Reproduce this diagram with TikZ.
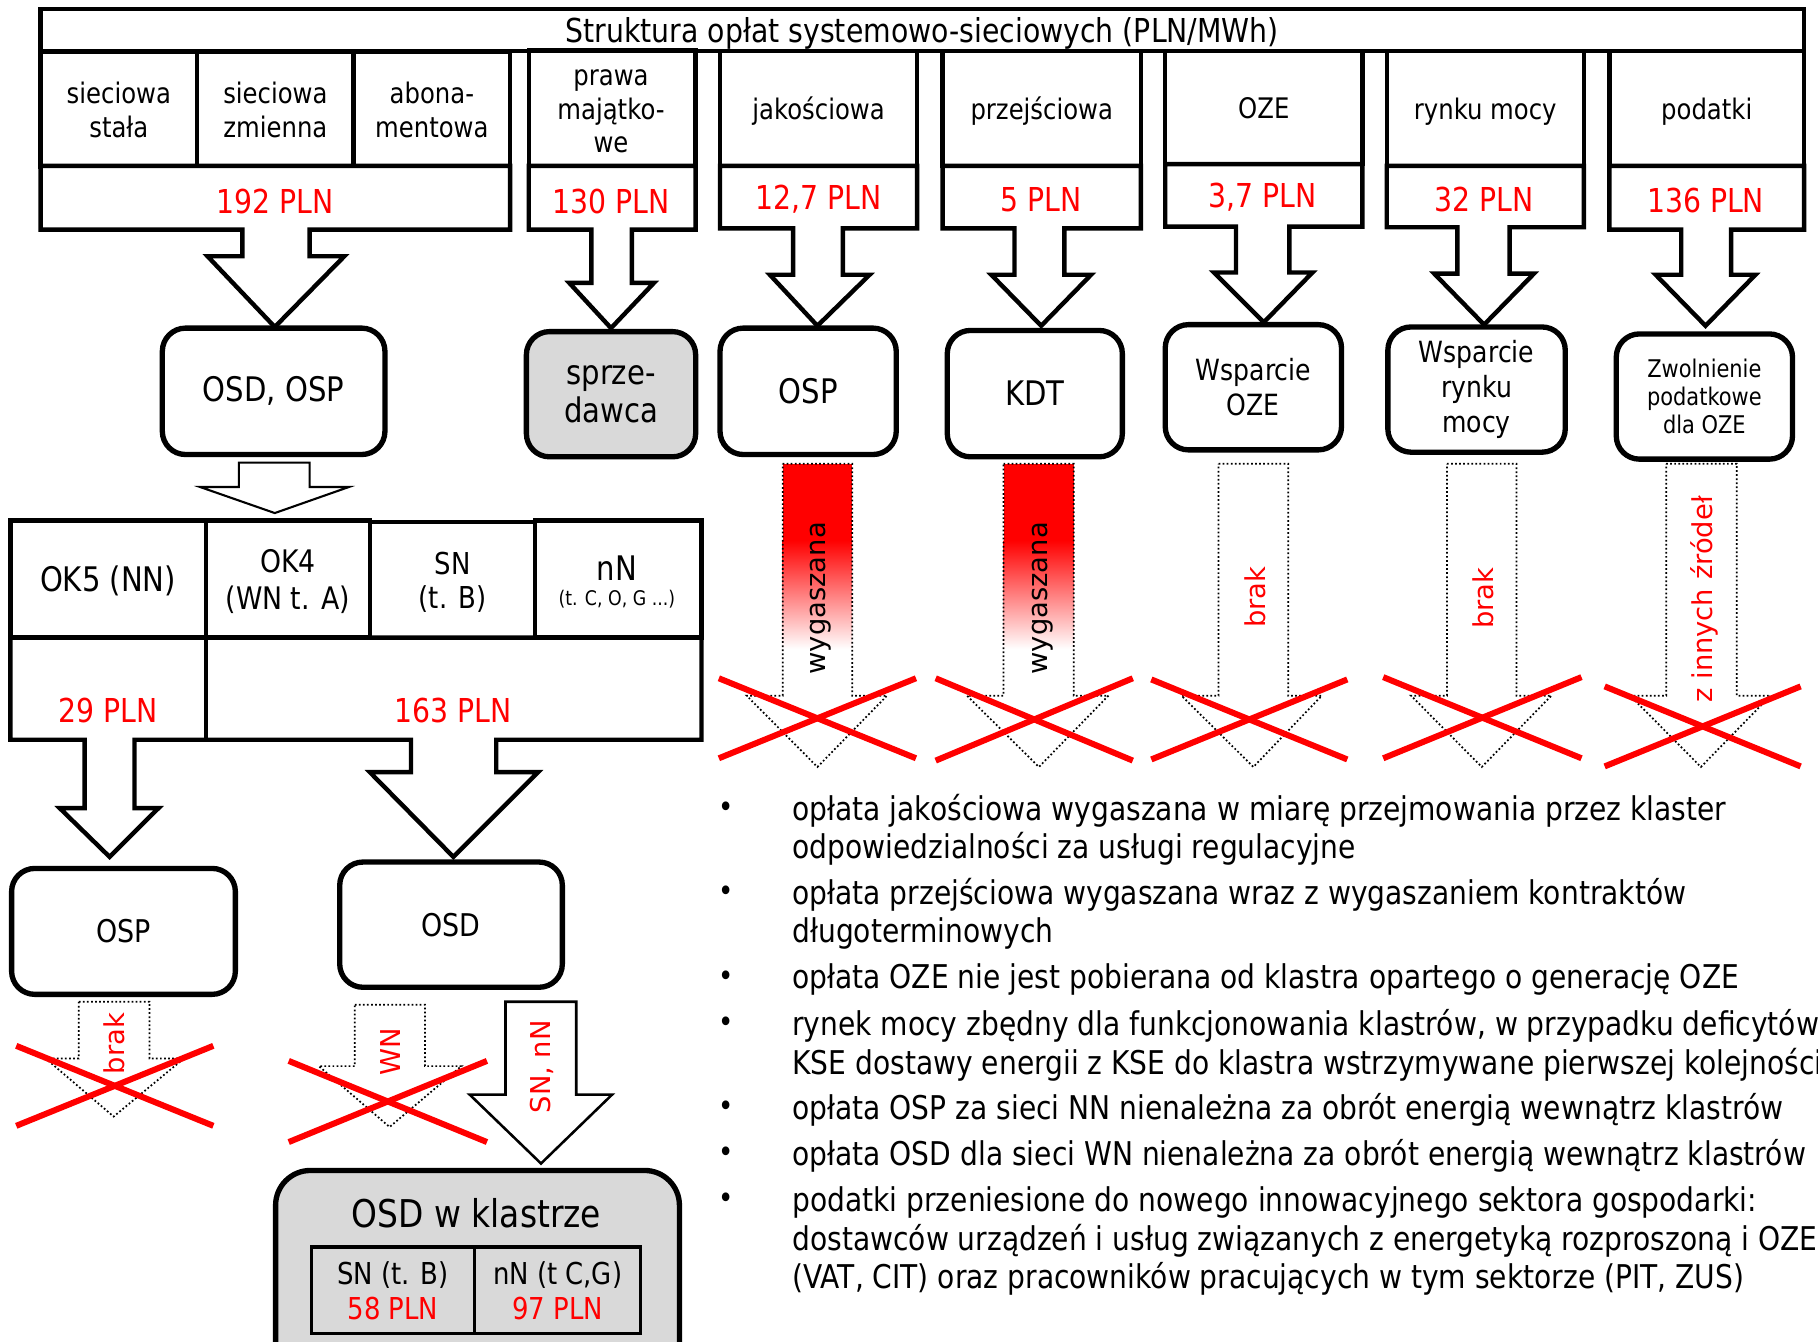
\documentclass[tikz,border=0pt]{standalone}
\usepackage{fontspec}
\setmainfont{DejaVu Sans}[FakeStretch=0.86]
\newfontfamily\rotf{DejaVu Sans}
\definecolor{boxgray}{HTML}{D9D9D9}
\definecolor{pred}{HTML}{FF0000}
\tikzset{
  tl/.style={line width=1.9pt, line join=miter, miter limit=10},
  cell/.style={draw, tl, inner sep=0pt, align=center, text depth=0pt},
  rbox/.style={draw, line width=2.3pt, rounded corners=10pt, inner sep=0pt, align=center, fill=white},
  f12/.style={font=\fontsize{12.2}{14.5}\selectfont},
  f13/.style={font=\fontsize{13}{15}\selectfont},
  f14/.style={font=\fontsize{14.6}{16}\selectfont},
  fval/.style={font=\fontsize{14.2}{16}\selectfont, text=pred, inner sep=0pt},
  frot/.style={font=\rotf\fontsize{11.8}{14}\selectfont, rotate=90, inner sep=0pt},
  dotar/.style={densely dotted, line width=0.75pt},
  redx/.style={draw=pred, line width=2.6pt},
  blk/.style={tl, fill=white},
  thinar/.style={line width=0.9pt, fill=white, line join=miter},
  btxt/.style={font=\fontsize{14.1}{16}\selectfont, anchor=west, inner sep=0pt},
  bul/.style={font=\fontsize{13}{15}\selectfont, inner sep=0pt},
}
\begin{document}
\begin{tikzpicture}[x=0.5pt,y=-0.5pt]
\useasboundingbox (0,0) rectangle (1568,1157);
\clip (0,0) rectangle (1568,1157);
\fill[white] (0,0) rectangle (1568,1157);

% ---------- title ----------
\node[cell, font=\fontsize{14.2}{16}\selectfont, minimum width=760.5pt, minimum height=18pt] (title) at (795.5,26) {Struktura opłat systemowo-sieciowych (PLN/MWh)};

% ---------- second-row rounded boxes ----------
\node[rbox, f14, minimum width=96pt, minimum height=54.5pt] (osdosp) at (236,337.5) {OSD, OSP};
\node[rbox, f14, fill=boxgray, minimum width=73pt, minimum height=54pt] (sprz) at (527,340) {sprze-\\dawca};
\node[rbox, f14, minimum width=76pt, minimum height=54.5pt] (ospj) at (697,337.5) {OSP};
\node[rbox, f14, minimum width=75.5pt, minimum height=54.5pt] (kdt) at (892.5,339.5) {KDT};
\node[rbox, font=\fontsize{12.6}{15}\selectfont, minimum width=76pt, minimum height=54pt] (woze) at (1081,334) {Wsparcie\\OZE};
\node[rbox, font=\fontsize{12.6}{15}\selectfont, minimum width=76.5pt, minimum height=54pt] (wrm) at (1273.5,336) {Wsparcie\\rynku\\mocy};
\node[rbox, font=\fontsize{10.5}{12}\selectfont, minimum width=76pt, minimum height=54pt] (zwol) at (1470,342) {Zwolnienie\\podatkowe\\dla OZE};

% ---------- group 1 ----------
\node[cell, f12, minimum width=67.5pt, minimum height=49.5pt] (h1) at (102.5,94.5) {sieciowa\\stała};
\node[cell, f12, minimum width=67.5pt, minimum height=49.5pt] (h2) at (237.5,94.5) {sieciowa\\zmienna};
\node[cell, f12, minimum width=67.5pt, minimum height=49.5pt] (h3) at (372.5,94.5) {abona-\\mentowa};
\draw[blk] (35,143) -- (440,143) -- (440,198) -- (267,198) -- (267,221) -- (297,221) -- (237,282) -- (179,221) -- (209,221) -- (209,198) -- (35,198) -- cycle;
\node[fval] (v1) at (237,174) {192 PLN};

% ---------- prawa ----------
\node[cell, minimum width=72pt, minimum height=50pt] (h4) at (528,93) {};
\node[f12, align=center, inner sep=0pt] (h4t) at (527,96) {prawa\\majątko-\\we};
\draw[blk] (456,143) -- (600,143) -- (600,198) -- (545,198) -- (545,244) -- (564,244) -- (527,283) -- (491,244) -- (510,244) -- (510,198) -- (456,198) -- cycle;
\node[fval] (v2) at (527,174) {130 PLN};

% ---------- jakosciowa ----------
\node[cell, f12, minimum width=85pt, minimum height=49.5pt] (h5) at (706,93.5) {jakościowa};
\draw[blk] (621,143) -- (791,143) -- (791,197) -- (727,197) -- (727,237) -- (750,237) -- (705,281) -- (664,237) -- (684,237) -- (684,197) -- (621,197) -- cycle;
\node[fval] (v3) at (706,172) {12,7 PLN};

% ---------- przejsciowa ----------
\node[cell, f12, minimum width=85.5pt, minimum height=49.5pt] (h6) at (898.5,93.5) {przejściowa};
\draw[blk] (813,143) -- (984,143) -- (984,197) -- (918,197) -- (918,237) -- (941,237) -- (898,281) -- (855,237) -- (875,237) -- (875,197) -- (813,197) -- cycle;
\node[fval] (v4) at (898,172) {5 PLN};

% ---------- OZE ----------
\node[cell, f12, minimum width=85pt, minimum height=48.75pt] (h7) at (1090,92.75) {OZE};
\draw[blk] (1005,141.5) -- (1175,141.5) -- (1175,195.5) -- (1112,195.5) -- (1112,235) -- (1132,235) -- (1090,278) -- (1047,235) -- (1066,235) -- (1066,195.5) -- (1005,195.5) -- cycle;
\node[fval] (v5) at (1089,170) {3,7 PLN};

% ---------- rynku mocy ----------
\node[cell, f12, minimum width=85pt, minimum height=49.5pt] (h8) at (1281,93.5) {rynku mocy};
\draw[blk] (1196,143) -- (1366,143) -- (1366,196) -- (1302,196) -- (1302,236) -- (1323,236) -- (1280,280) -- (1237,236) -- (1257,236) -- (1257,196) -- (1196,196) -- cycle;
\node[fval] (v6) at (1280,172) {32 PLN};

% ---------- podatki ----------
\node[cell, f12, minimum width=84pt, minimum height=49.5pt] (h9) at (1472,93.5) {podatki};
\draw[blk] (1388,143) -- (1556,143) -- (1556,198) -- (1493,198) -- (1493,237) -- (1514,237) -- (1471,281) -- (1428,237) -- (1450,237) -- (1450,198) -- (1388,198) -- cycle;
\node[fval] (v7) at (1471,173) {136 PLN};

% ---------- thin arrow to table ----------
\draw[thinar] (206,399) -- (267,399) -- (267,420) -- (301,420) -- (237,442.5) -- (172.5,420) -- (206,420) -- cycle;

% ---------- table ----------
\node[cell, f14, minimum width=84.25pt, minimum height=50.5pt] (t1) at (93.25,499.5) {OK5 (NN)};
\node[cell, font=\fontsize{13.4}{16}\selectfont, minimum width=70.75pt, minimum height=50.5pt] (t2) at (248.25,499.5) {OK4\\(WN t. A)};
\node[cell, f13, minimum width=71.25pt, minimum height=50.5pt] (t3) at (390.25,500.5) {SN\\(t. B)};
\node[cell, minimum width=71.75pt, minimum height=50.5pt] (t4) at (533.25,499.5) {};
\node[f14, inner sep=0pt] (t4a) at (532,490) {nN};
\node[font=\fontsize{8.7}{10}\selectfont, inner sep=0pt] (t4b) at (532,517) {(t. C, O, G ...)};
\draw[blk] (9,550) -- (605,550) -- (605,638) -- (428,638) -- (428,666) -- (464,666) -- (391,739) -- (319,666) -- (354.5,666) -- (354.5,638) -- (116,638) -- (116,697) -- (136.7,697) -- (94.5,739) -- (51.5,697) -- (73,697) -- (73,638) -- (9,638) -- cycle;
\draw[tl] (177.5,550) -- (177.5,638);
\node[fval] (v8) at (93,613) {29 PLN};
\node[fval] (v9) at (391,613) {163 PLN};

% ---------- lower boxes ----------
\node[rbox, font=\fontsize{13.5}{15}\selectfont, minimum width=96.5pt, minimum height=54.3pt] (ospb) at (106.5,803.3) {OSP};
\node[rbox, font=\fontsize{13.5}{15}\selectfont, minimum width=96pt, minimum height=54pt] (osdb) at (389,797.5) {OSD};

\draw[dotar] (68,864) -- (129,864) -- (129,913) -- (158.5,913) -- (98,963) -- (39.5,913) -- (68,913) -- cycle;
\node[frot, text=pred] (brak1) at (99,900) {brak};
\draw[redx] (14,902) -- (184,971);
\draw[redx] (14,971) -- (184,902);

\draw[dotar] (306,866.5) -- (366.5,866.5) -- (366.5,919.5) -- (398,919.5) -- (336,972) -- (275,919.5) -- (306,919.5) -- cycle;
\node[frot, text=pred] (wn) at (336.5,907) {WN};
\draw[redx] (249,915) -- (420,985);
\draw[redx] (249,985) -- (420,915);

\draw[line width=1.1pt, fill=white, line join=miter] (436,864) -- (497,864) -- (497,944) -- (528,944) -- (466.6,1003.5) -- (405,944) -- (436,944) -- cycle;
\node[frot, text=pred] (snnn) at (467,920) {SN, nN};

% ---------- OSD w klastrze ----------
\node[draw, line width=2.3pt, rounded corners=15pt, fill=boxgray, inner sep=0pt, minimum width=174.15pt, minimum height=90pt] (klast) at (411.85,1099.5) {};
\node[font=\fontsize{16.5}{18}\selectfont, inner sep=0pt] (kt) at (411,1046) {OSD w klastrze};
\node[cell, line width=1.5pt, font=\fontsize{13}{15}\selectfont, minimum width=70.35pt, minimum height=37.25pt] (kc1) at (338.95,1112.75) {SN (t. B)\\\textcolor{pred}{58 PLN}};
\node[cell, line width=1.5pt, font=\fontsize{13}{15}\selectfont, minimum width=71.65pt, minimum height=37.25pt] (kc2) at (480.95,1112.75) {nN (t C,G)\\\textcolor{pred}{97 PLN}};

% ---------- dotted arrows, right group ----------
% jakosciowa
\fill[pred] (675,400) rectangle (735,467);
\shade[top color=pred, bottom color=white] (675,466) rectangle (735,560);
\draw[dotar] (675,400) -- (735,400) -- (735,600) -- (765,600) -- (705,661.5) -- (644,600) -- (675,600) -- cycle;
\node[frot] (wyg1) at (707.5,516) {wygaszana};
\draw[redx] (620,585) -- (790,654);
\draw[redx] (620,654) -- (790,585);
% przejsciowa
\fill[pred] (865.5,400) rectangle (926,467);
\shade[top color=pred, bottom color=white] (865.5,466) rectangle (926,560);
\draw[dotar] (865.5,400) -- (926,400) -- (926,600) -- (956,600) -- (896,661.5) -- (834,600) -- (865.5,600) -- cycle;
\node[frot] (wyg2) at (899,516) {wygaszana};
\draw[redx] (807,585) -- (977,656);
\draw[redx] (807,656) -- (977,585);
% OZE
\draw[dotar] (1051,400) -- (1111,400) -- (1111,600) -- (1140,600) -- (1081,661.5) -- (1019,600) -- (1051,600) -- cycle;
\node[frot, text=pred] (brak2) at (1083,515) {brak};
\draw[redx] (993,586) -- (1162,655);
\draw[redx] (993,655) -- (1162,586);
% rynku mocy
\draw[dotar] (1248,400) -- (1308,400) -- (1308,600) -- (1338,600) -- (1278,661.5) -- (1217,600) -- (1248,600) -- cycle;
\node[frot, text=pred] (brak3) at (1279.5,516) {brak};
\draw[redx] (1193,584) -- (1364,654);
\draw[redx] (1193,654) -- (1364,584);
% podatki
\draw[dotar] (1437,400) -- (1498,400) -- (1498,600) -- (1527,600) -- (1467,661.5) -- (1406,600) -- (1437,600) -- cycle;
\node[frot, text=pred] (zinn) at (1470,517) {z innych źródeł};
\draw[redx] (1384,592) -- (1553,661);
\draw[redx] (1384,661) -- (1553,592);

% ---------- bullet list ----------
\foreach \yy/\nm in {698/b1,771/b2,844/b3,884/b4,956/b5,996/b6,1036/b7}
  \node[bul] (\nm) at (626,\yy) {\textbullet};
\node[btxt] (l1) at (683,699) {opłata jakościowa wygaszana w miarę przejmowania przez klaster};
\node[btxt] (l2) at (683,732) {odpowiedzialności za usługi regulacyjne};
\node[btxt] (l3) at (683,772) {opłata przejściowa wygaszana wraz z wygaszaniem kontraktów};
\node[btxt] (l4) at (683,805) {długoterminowych};
\node[btxt] (l5) at (683,845) {opłata OZE nie jest pobierana od klastra opartego o generację OZE};
\node[btxt] (l6) at (683,885) {rynek mocy zbędny dla funkcjonowania klastrów, w przypadku deficytów};
\node[btxt] (l7) at (683,918) {KSE dostawy energii z KSE do klastra wstrzymywane pierwszej kolejności};
\node[btxt] (l8) at (683,957) {opłata OSP za sieci NN nienależna za obrót energią wewnątrz klastrów};
\node[btxt] (l9) at (683,997) {opłata OSD dla sieci WN nienależna za obrót energią wewnątrz klastrów};
\node[btxt] (l10) at (683,1037) {podatki przeniesione do nowego innowacyjnego sektora gospodarki:};
\node[btxt] (l11) at (683,1070) {dostawców urządzeń i usług związanych z energetyką rozproszoną i OZE};
\node[btxt] (l12) at (683,1103) {(VAT, CIT) oraz pracowników pracujących w tym sektorze (PIT, ZUS)};
\end{tikzpicture}
\end{document}
